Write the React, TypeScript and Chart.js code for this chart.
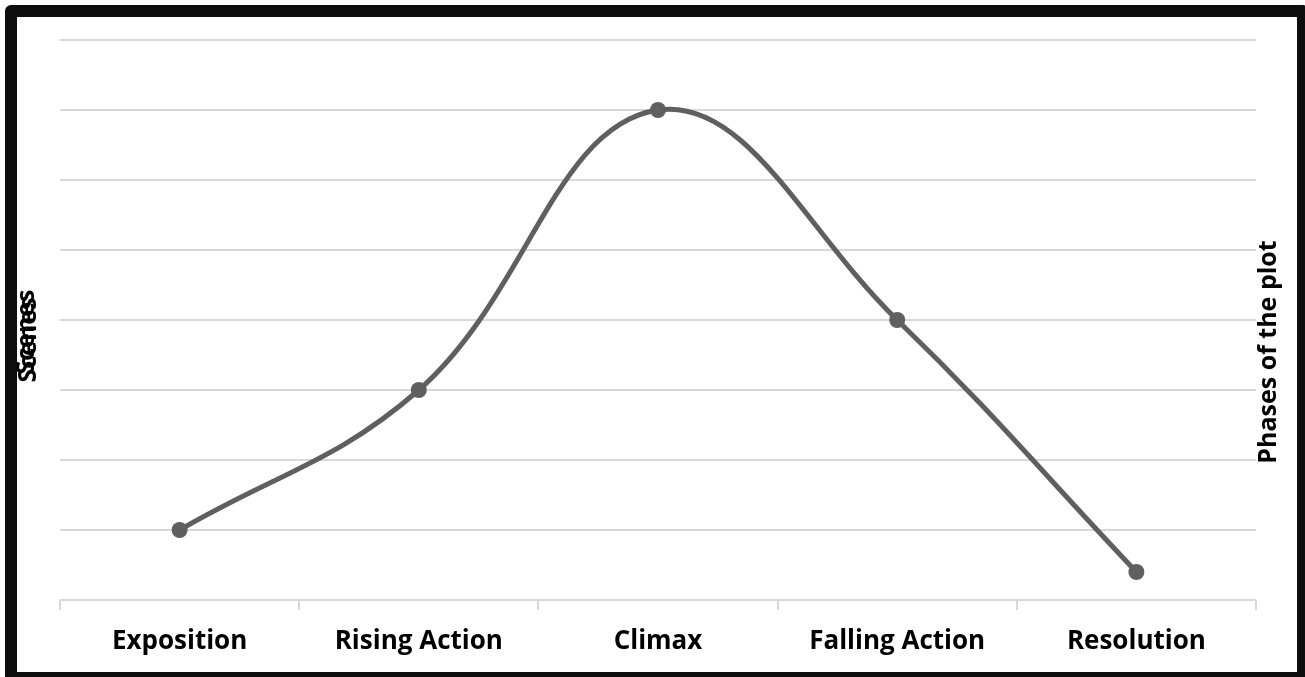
import React, { useEffect, useRef } from "react";
import { Chart, registerables } from "chart.js";

Chart.register(...registerables);

const categories = ["Exposition", "Rising Action", "Climax", "Falling Action", "Resolution"];
const sceneValues = [1, 3, 7, 4, 0.4];
const yMin = 0;
const yMax = 8;
const leftTitle = "Scenes";
const rightTitle = "Phases of the plot";

const FONT = "'Open Sans', 'Liberation Sans', sans-serif";

const titlesPlugin = {
  id: "sideTitles",
  afterDraw(chart: any) {
    const ctx = chart.ctx;
    ctx.save();
    ctx.fillStyle = "#000";
    ctx.textAlign = "center";
    ctx.textBaseline = "middle";
    const drawV = (text: string, x: number, y: number, size: number) => {
      ctx.save();
      ctx.font = `bold ${size}px ${FONT}`;
      ctx.translate(x, y);
      ctx.rotate(-Math.PI / 2);
      ctx.fillText(text, 0, 0);
      ctx.restore();
    };
    drawV(leftTitle, 27, 332, 25);
    drawV(leftTitle, 29, 340, 25);
    drawV(rightTitle, 1269, 352, 25);
    ctx.restore();
  },
};

export default function App() {
  const ref = useRef<HTMLCanvasElement | null>(null);
  useEffect(() => {
    document.body.style.margin = "0";
    document.body.style.overflow = "hidden";
    const chart = new Chart(ref.current!, {
      type: "line",
      data: {
        labels: categories,
        datasets: [
          {
            data: sceneValues,
            borderColor: "#5f5f5f",
            backgroundColor: "#5f5f5f",
            borderWidth: 5,
            pointRadius: 8,
            pointBorderWidth: 0,
            pointBackgroundColor: "#5f5f5f",
            tension: 0.4,
            fill: false,
          },
        ],
      },
      options: {
        animation: false,
        responsive: false,
        maintainAspectRatio: false,
        layout: { padding: { left: 60, right: 49, top: 40, bottom: 0 } },
        plugins: { legend: { display: false }, tooltip: { enabled: false } },
        scales: {
          x: {
            offset: true,
            grid: {
              display: true,
              drawOnChartArea: false,
              offset: true,
              tickLength: 10,
              color: "#d9d9d9",
              lineWidth: 2,
            },
            border: { display: false },
            ticks: {
              color: "#000",
              font: { family: FONT, size: 26, weight: "bold" },
              padding: 16,
              maxRotation: 0,
            },
            afterFit: (s: any) => {
              s.height = 77;
            },
          },
          y: {
            min: yMin,
            max: yMax,
            ticks: { display: false, stepSize: 1 },
            grid: { color: "#d9d9d9", lineWidth: 2, drawTicks: false },
            border: { display: false },
            afterFit: (s: any) => {
              s.width = 0;
            },
          },
        },
      },
      plugins: [titlesPlugin],
    });
    return () => chart.destroy();
  }, []);
  return (
    <div style={{ position: "fixed", left: 0, top: 0, width: 1305, height: 677, overflow: "hidden", background: "#fff" }}>
      <canvas ref={ref} width={1305} height={677} style={{ position: "absolute", left: 0, top: 0, width: 1305, height: 677 }} />
      <div
        style={{
          position: "absolute",
          left: 5,
          top: 5,
          width: 1304,
          height: 679,
          boxSizing: "border-box",
          border: "12px solid #0d0d0d",
          borderRadius: 6,
          pointerEvents: "none",
        }}
      />
    </div>
  );
}
